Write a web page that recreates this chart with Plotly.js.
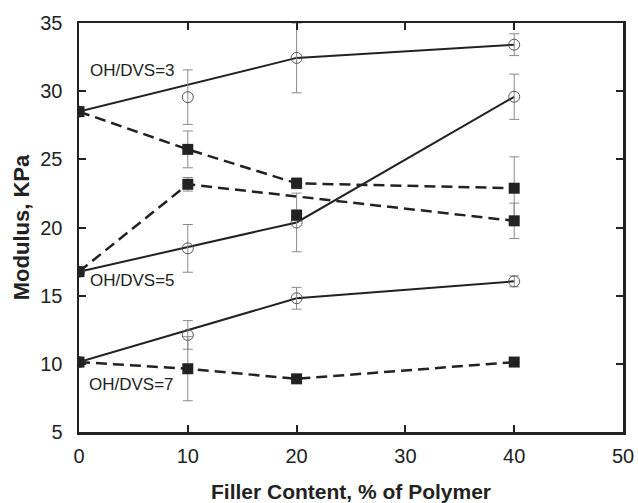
<!DOCTYPE html>
<html>
<head>
<meta charset="utf-8">
<script src="https://cdn.plot.ly/plotly-3.0.1.min.js"></script>
<style>html,body{margin:0;padding:0;background:#fff;}#chart{width:638px;height:503px;}</style>
</head>
<body>
<div id="chart"></div>
<script>
// Filler content (% of polymer)
var filler = [0, 10, 20, 40];

// OH/DVS = 3
var circ3 = [28.5, 29.56, 32.44, 33.41];
var circ3Err = [0, 2.0, 2.56, 0.8];
var sq3 = [28.5, 25.73, 23.24, 22.88];
var sq3Err = [0, 1.35, 0.4, 2.3];

// OH/DVS = 5
var circ5 = [16.76, 18.47, 20.37, 29.59];
var circ5Err = [0, 1.75, 2.15, 1.66];
var sq5 = [16.76, 23.17, 20.9, 20.49];
var sq5Err = [0, 0.5, 0.4, 1.3];

// OH/DVS = 7
var circ7 = [10.13, 12.12, 14.81, 16.05];
var circ7Err = [0, 1.05, 0.8, 0.4];
var sq7 = [10.13, 9.64, 8.9, 10.13];
var sq7Err = [0, 2.35, 0.2, 0];

// which points each connecting line passes through
var circLineIdx = [0, 2, 3];
var sq3LineIdx = [0, 1, 2, 3];
var sq5LineIdx = [0, 1, 3];
var sq7LineIdx = [0, 1, 2, 3];

var seriesLabels = ["OH/DVS=3", "OH/DVS=5", "OH/DVS=7"];
var xTicks = [0, 10, 20, 30, 40, 50];
var yTicks = [5, 10, 15, 20, 25, 30, 35];

var ink = "#222";
function pick(arr, idx) { return idx.map(function (i) { return arr[i]; }); }

function lineTrace(y, idx, dash) {
  return {x: pick(filler, idx), y: pick(y, idx), mode: "lines", type: "scatter",
    line: {color: ink, width: dash === "solid" ? 2 : 2.5, dash: dash}, hoverinfo: "skip", showlegend: false};
}
function errStyle(e) {
  return {type: "data", array: e, visible: true, color: "#8a8a8a", thickness: 1, width: 5};
}
function circTrace(y, e) {
  return {x: filler, y: y, mode: "markers", type: "scatter", error_y: errStyle(e),
    marker: {symbol: "circle-open", size: 11, color: "#555", line: {width: 1, color: "#555"}},
    showlegend: false};
}
function sqTrace(y, e) {
  return {x: filler, y: y, mode: "markers", type: "scatter", error_y: errStyle(e),
    marker: {symbol: "square", size: 11, color: ink}, showlegend: false};
}

var data = [
  lineTrace(circ3, circLineIdx, "solid"),
  lineTrace(circ5, circLineIdx, "solid"),
  lineTrace(circ7, circLineIdx, "solid"),
  lineTrace(sq3, sq3LineIdx, "11px,6px"),
  lineTrace(sq5, sq5LineIdx, "11px,6px"),
  lineTrace(sq7, sq7LineIdx, "11px,6px"),
  circTrace(circ3, circ3Err), circTrace(circ5, circ5Err), circTrace(circ7, circ7Err),
  sqTrace(sq3, sq3Err), sqTrace(sq5, sq5Err), sqTrace(sq7, sq7Err)
];

var axisCommon = {
  showline: true, linewidth: 2.5, linecolor: ink, mirror: "ticks",
  ticks: "inside", ticklen: 7, tickwidth: 2, tickcolor: ink,
  showgrid: false, zeroline: false,
  tickfont: {family: "Liberation Sans, Arial, sans-serif", size: 20, color: ink}
};

var layout = {
  width: 638, height: 503,
  margin: {l: 79, r: 15, t: 23, b: 71},
  paper_bgcolor: "#fff", plot_bgcolor: "#fff",
  xaxis: Object.assign({}, axisCommon, {
    range: [0, 50], tickvals: xTicks, ticklabelstandoff: 4,
    title: {text: "<b>Filler Content, % of Polymer</b>", standoff: 20,
      font: {family: "Liberation Sans, Arial, sans-serif", size: 21, color: ink}}
  }),
  yaxis: Object.assign({}, axisCommon, {
    range: [5, 35], tickvals: yTicks, ticklabelstandoff: 10,
    title: {text: "<b>Modulus, KPa</b>", standoff: 5,
      font: {family: "Liberation Sans, Arial, sans-serif", size: 22, color: ink}}
  }),
  annotations: [
    {x: 0.87, y: 31.51, text: seriesLabels[0]},
    {x: 0.87, y: 16.1, text: seriesLabels[1]},
    {x: 0.69, y: 8.47, text: seriesLabels[2]}
  ].map(function (a) {
    return Object.assign(a, {xref: "x", yref: "y", xanchor: "left", yanchor: "middle",
      showarrow: false, font: {family: "Liberation Sans, Arial, sans-serif", size: 17, color: ink}});
  })
};

Plotly.newPlot("chart", data, layout, {displayModeBar: false, staticPlot: true});
</script>
</body>
</html>
